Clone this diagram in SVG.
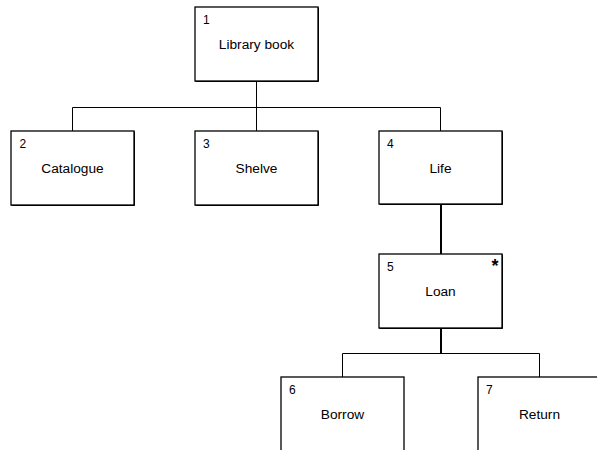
<svg xmlns="http://www.w3.org/2000/svg" width="597" height="450" viewBox="0 0 597 450">
<style>
.box{fill:#fff;stroke:#000;stroke-width:1.3}
.sh{fill:none;stroke:#000;stroke-width:1}
.num{font-family:"Liberation Sans",Arial,sans-serif;font-size:12px;fill:#000}
.lbl{font-family:"Liberation Sans",Arial,sans-serif;font-size:13.7px;fill:#000;text-anchor:middle}
.thin{fill:none;stroke:#000;stroke-width:1}
.thick{fill:none;stroke:#000;stroke-width:2}
</style>
<rect width="597" height="450" fill="#fff"/>
<g id="connectors">
<path class="thin" d="M256.5 81 V107.5 M72.5 131 V107.5 H440.5 V131 M256.5 107.5 V131"/>
<path class="thick" d="M441 204 V254"/>
<path class="thick" d="M441 328 V353"/>
<path class="thin" d="M342.5 377 V353.5 H539.5 V377"/>
</g>
<g id="node1">
<rect class="box" x="195" y="7" width="123" height="74"/>
<path class="sh" d="M195.5 81.5 H318.5 V7.5"/>
<text class="num" x="203" y="23.5">1</text>
<text class="lbl" x="256.5" y="49">Library book</text>
</g>
<g id="node2">
<rect class="box" x="11" y="131" width="123" height="74"/>
<path class="sh" d="M11.5 205.5 H134.5 V131.5"/>
<text class="num" x="19.5" y="147.5">2</text>
<text class="lbl" x="72.5" y="172.5">Catalogue</text>
</g>
<g id="node3">
<rect class="box" x="195" y="131" width="123" height="74"/>
<path class="sh" d="M195.5 205.5 H318.5 V131.5"/>
<text class="num" x="203" y="147.5">3</text>
<text class="lbl" x="256.5" y="172.5">Shelve</text>
</g>
<g id="node4">
<rect class="box" x="379" y="131" width="123" height="73"/>
<path class="sh" d="M379.5 204.5 H502.5 V131.5"/>
<text class="num" x="387" y="147.5">4</text>
<text class="lbl" x="440.5" y="172.5">Life</text>
</g>
<g id="node5">
<rect class="box" x="379" y="254" width="123" height="74"/>
<path class="sh" d="M379.5 328.5 H502.5 V254.5"/>
<text class="num" x="387" y="270.5">5</text>
<text class="lbl" x="440.5" y="295.5">Loan</text>
<text x="495" y="272" style="font-family:'Liberation Sans',Arial,sans-serif;font-size:18px;font-weight:bold;text-anchor:middle">*</text>
</g>
<g id="node6">
<rect class="box" x="281" y="377" width="123" height="80"/>
<text class="num" x="289" y="393.5">6</text>
<text class="lbl" x="342.5" y="418.5">Borrow</text>
</g>
<g id="node7">
<rect class="box" x="478" y="377" width="123" height="80"/>
<text class="num" x="486" y="393.5">7</text>
<text class="lbl" x="539.5" y="418.5">Return</text>
</g>
</svg>
